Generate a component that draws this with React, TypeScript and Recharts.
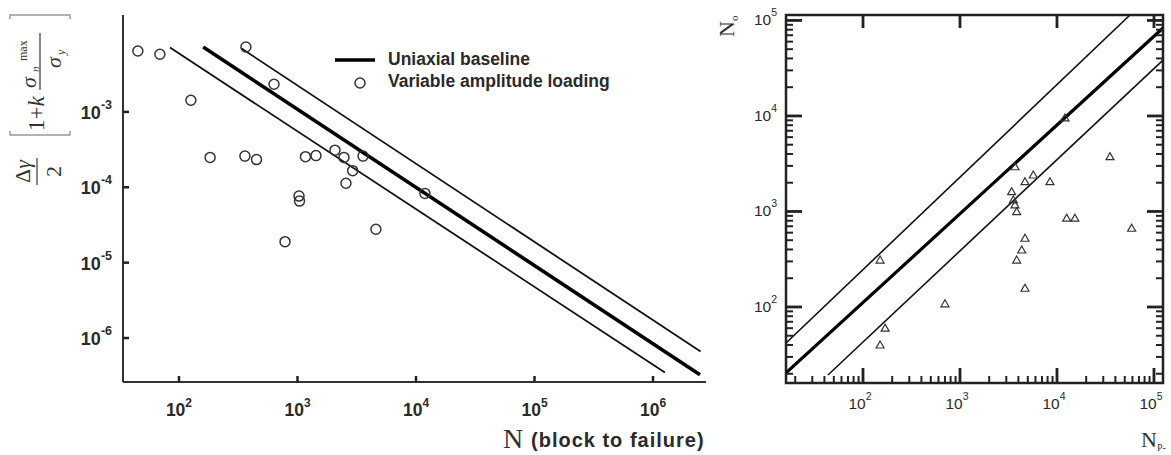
import React from 'react';
import { ScatterChart, Scatter, XAxis, YAxis, ReferenceArea } from 'recharts';

// ---------------- Left panel: damage parameter vs. blocks to failure ----------------
const blocksToFailure = [45, 69, 126, 183, 367, 360, 451, 634, 1167, 1432, 2071, 2466, 2921, 2565, 3573, 1030, 1040, 785, 4590, 11900];
const damageParameter = [6.43e-3, 5.81e-3, 1.43e-3, 2.49e-4, 7.26e-3, 2.59e-4, 2.33e-4, 2.33e-3, 2.55e-4, 2.63e-4, 3.11e-4, 2.49e-4, 1.66e-4, 1.13e-4, 2.59e-4, 7.64e-5, 6.56e-5, 1.9e-5, 2.77e-5, 8.3e-5];

const baselineN = [160, 2.49e6];
const baselineParam = [7.26e-3, 3.26e-7];
const upperBandN = [338, 2.52e6];
const upperBandParam = [6.92e-3, 6.62e-7];
const lowerBandN = [84, 1.26e6];
const lowerBandParam = [7.13e-3, 3.49e-7];

const leftXTicks = [1e2, 1e3, 1e4, 1e5, 1e6];
const leftYTicks = [1e-6, 1e-5, 1e-4, 1e-3];

// ---------------- Right panel: observed vs. predicted life ----------------
const predictedLife = [150, 169, 150, 700, 3690, 3410, 3550, 3690, 3840, 4680, 5700, 8470, 4680, 4330, 3840, 4680, 12600, 15300, 35200, 58900, 12100];
const observedLife = [310, 60, 40, 108, 2940, 1610, 1320, 1170, 995, 2050, 2410, 2050, 524, 395, 310, 157, 850, 850, 3750, 667, 9530];

const unityNp = [16.1, 123900];
const unityNo = [20.4, 83400];
const upperFactorNp = [16.1, 56600];
const upperFactorNo = [42, 114000];
const lowerFactorNp = [43.5, 123900];
const lowerFactorNo = [19.4, 38500];

const rightMajorTicks = [1e2, 1e3, 1e4, 1e5];
const rightMinorTicks = [
  20, 30, 40, 50, 60, 70, 80, 90,
  200, 300, 400, 500, 600, 700, 800, 900,
  2000, 3000, 4000, 5000, 6000, 7000, 8000, 9000,
  20000, 30000, 40000, 50000, 60000, 70000, 80000, 90000,
];

// ---------------- layout ----------------
const SANS = 'Liberation Sans, Arial, Helvetica, sans-serif';
const SERIF = 'Liberation Serif, Times New Roman, serif';
const INK = '#2a2a2a';

const L = { width: 720, height: 455, left: 123, right: 706, top: 15, bottom: 382 };
const R = { x: 700, width: 471, height: 455, left: 86, right: 463, top: 15, bottom: 383 };

const pairs = (xs: number[], ys: number[]) => xs.map((x, i) => ({ x, y: ys[i] }));

const leftPoints = pairs(blocksToFailure, damageParameter);
const baseline = pairs(baselineN, baselineParam);
const upperBand = pairs(upperBandN, upperBandParam);
const lowerBand = pairs(lowerBandN, lowerBandParam);

const rightPoints = pairs(predictedLife, observedLife);
const unity = pairs(unityNp, unityNo);
const upperFactor = pairs(upperFactorNp, upperFactorNo);
const lowerFactor = pairs(lowerFactorNp, lowerFactorNo);

const rightTicks = [...rightMajorTicks, ...rightMinorTicks].sort((a, b) => a - b);
const isMajor = (v: number) => rightMajorTicks.includes(v);
const expOf = (v: number) => String(Math.round(Math.log10(v)));

const NoMarker = () => <g />;

const Ring = (p: any) => (
  <circle cx={p.cx} cy={p.cy} r={5} fill="none" stroke="#333" strokeWidth={1.5} />
);

const Triangle = (p: any) => (
  <path
    d={`M${p.cx},${p.cy - 4} L${p.cx + 4},${p.cy + 3} L${p.cx - 4},${p.cy + 3} Z`}
    fill="none"
    stroke="#333"
    strokeWidth={1.2}
  />
);

// left panel ticks: short inward marks plus bold power-of-ten labels
const LeftXTick = (p: any) => (
  <g>
    <line x1={p.x} x2={p.x} y1={L.bottom} y2={L.bottom - 6} stroke="#222" strokeWidth={2.5} />
    <text x={p.x} y={416} textAnchor="middle" fontFamily={SANS} fontWeight="bold" fontSize={17.5} fill={INK}>
      10
      <tspan dy={-9} fontSize={12}>{expOf(p.payload.value)}</tspan>
    </text>
  </g>
);

const LeftYTick = (p: any) => (
  <g>
    <line x1={L.left} x2={L.left + 6} y1={p.y} y2={p.y} stroke="#222" strokeWidth={2.5} />
    <text x={112} y={p.y + 7} textAnchor="end" fontFamily={SANS} fontWeight="bold" fontSize={18} fill={INK}>
      10
      <tspan dy={-10} fontSize={12.5}>{expOf(p.payload.value)}</tspan>
    </text>
  </g>
);

// right panel ticks: long majors, short minors, mirrored on the opposite side
const RightXTick = (p: any) => {
  const major = isMajor(p.payload.value);
  return (
    <g>
      <line x1={p.x} x2={p.x} y1={R.bottom} y2={R.bottom - (major ? 15 : 7)} stroke="#222" strokeWidth={major ? 2.8 : 2} />
      {major && <line x1={p.x} x2={p.x} y1={R.top} y2={R.top + 13} stroke="#222" strokeWidth={2.8} />}
      {major && (
        <text x={p.x - 3} y={409} textAnchor="middle" fontFamily={SANS} fontSize={15.5} fill={INK}>
          10
          <tspan dy={-9} fontSize={10.5}>{expOf(p.payload.value)}</tspan>
        </text>
      )}
    </g>
  );
};

const RightYTick = (p: any) => {
  const major = isMajor(p.payload.value);
  const len = major ? 16 : 7;
  return (
    <g>
      <line x1={R.left} x2={R.left + len} y1={p.y} y2={p.y} stroke="#222" strokeWidth={major ? 2.8 : 2} />
      <line x1={R.right} x2={R.right - len} y1={p.y} y2={p.y} stroke="#222" strokeWidth={major ? 2.8 : 2} />
      {major && (
        <text x={77} y={p.y + 5} textAnchor="end" fontFamily={SANS} fontSize={15.5} fill={INK}>
          10
          <tspan dy={-9} fontSize={10.5}>{expOf(p.payload.value)}</tspan>
        </text>
      )}
    </g>
  );
};

function LeftPanel() {
  return (
    <ScatterChart
      width={L.width}
      height={L.height}
      margin={{ top: L.top, right: L.width - L.right, bottom: 0, left: L.left - 60 }}
    >
      <XAxis
        dataKey="x"
        type="number"
        scale="log"
        domain={[33.7, 2.8e6]}
        allowDataOverflow
        ticks={leftXTicks}
        interval={0}
        tickSize={0}
        tickMargin={0}
        height={L.height - L.bottom}
        axisLine={{ stroke: '#333', strokeWidth: 2 }}
        tickLine={false}
        tick={<LeftXTick />}
      />
      <YAxis
        dataKey="y"
        type="number"
        scale="log"
        domain={[2.61e-7, 1.93e-2]}
        allowDataOverflow
        ticks={leftYTicks}
        interval={0}
        tickSize={0}
        tickMargin={0}
        width={60}
        axisLine={{ stroke: '#333', strokeWidth: 2 }}
        tickLine={false}
        tick={<LeftYTick />}
      />
      <Scatter data={lowerBand} line={{ stroke: '#111', strokeWidth: 1.8 }} stroke="#111" shape={<NoMarker />} isAnimationActive={false} />
      <Scatter data={upperBand} line={{ stroke: '#111', strokeWidth: 1.8 }} stroke="#111" shape={<NoMarker />} isAnimationActive={false} />
      <Scatter data={baseline} line={{ stroke: '#000', strokeWidth: 3.6 }} stroke="#000" shape={<NoMarker />} isAnimationActive={false} />
      <Scatter data={leftPoints} shape={<Ring />} isAnimationActive={false} />
    </ScatterChart>
  );
}

function RightPanel() {
  return (
    <ScatterChart
      width={R.width}
      height={R.height}
      margin={{ top: R.top, right: R.width - R.right, bottom: 0, left: R.left - 60 }}
    >
      <XAxis
        dataKey="x"
        type="number"
        scale="log"
        domain={[16.07, 123900]}
        allowDataOverflow
        ticks={rightTicks}
        interval={0}
        tickSize={0}
        tickMargin={0}
        height={R.height - R.bottom}
        axisLine={false}
        tickLine={false}
        tick={<RightXTick />}
      />
      <YAxis
        dataKey="y"
        type="number"
        scale="log"
        domain={[16.0, 114000]}
        allowDataOverflow
        ticks={rightTicks}
        interval={0}
        tickSize={0}
        tickMargin={0}
        width={60}
        axisLine={false}
        tickLine={false}
        tick={<RightYTick />}
      />
      <ReferenceArea x1={16.07} x2={123900} y1={16.0} y2={114000} fill="none" stroke="#222" strokeWidth={2.5} />
      <Scatter data={upperFactor} line={{ stroke: '#111', strokeWidth: 1.6 }} stroke="#111" shape={<NoMarker />} isAnimationActive={false} />
      <Scatter data={lowerFactor} line={{ stroke: '#111', strokeWidth: 1.6 }} stroke="#111" shape={<NoMarker />} isAnimationActive={false} />
      <Scatter data={unity} line={{ stroke: '#000', strokeWidth: 3.2 }} stroke="#000" shape={<NoMarker />} isAnimationActive={false} />
      <Scatter data={rightPoints} shape={<Triangle />} isAnimationActive={false} />
    </ScatterChart>
  );
}

// Rotated y-axis title of the left panel: Δγ/2 [1 + k σn^max / σy]
function DamageParameterTitle() {
  return (
    <g transform="translate(40,185) rotate(-90)" fill="#333">
      <text x={2} y={-10} fontFamily={SERIF} fontSize={22}>
        Δ<tspan fontStyle="italic">γ</tspan>
      </text>
      <line x1={0} x2={27} y1={-3} y2={-3} stroke="#555" strokeWidth={1.4} />
      <text x={8} y={21} fontFamily={SERIF} fontSize={22}>2</text>
      <path d="M54,-30 L50,-30 L50,30 L54,30" fill="none" stroke="#999" strokeWidth={1.4} />
      <text x={54} y={4} fontFamily={SERIF} fontSize={23}>
        1+<tspan fontStyle="italic">k</tspan>
      </text>
      <text x={97} y={-4} fontFamily={SERIF} fontSize={22} fontStyle="italic">σ</text>
      <text x={113} y={-1} fontFamily={SERIF} fontSize={11} fontStyle="italic">n</text>
      <text x={124} y={-13} fontFamily={SERIF} fontSize={12}>max</text>
      <line x1={95} x2={152} y1={0} y2={0} stroke="#555" strokeWidth={1.4} />
      <text x={117} y={21} fontFamily={SERIF} fontSize={22} fontStyle="italic">σ</text>
      <text x={130} y={25} fontFamily={SERIF} fontSize={12} fontStyle="italic">y</text>
      <path d="M166,-30 L170,-30 L170,30 L166,30" fill="none" stroke="#999" strokeWidth={1.4} />
    </g>
  );
}

function Annotations() {
  return (
    <svg width={1171} height={455} style={{ position: 'absolute', left: 0, top: 0, pointerEvents: 'none' }}>
      <DamageParameterTitle />
      {/* legend */}
      <line x1={335} x2={375} y1={60} y2={60} stroke="#000" strokeWidth={3.6} />
      <text x={388} y={65} fontFamily={SANS} fontWeight="bold" fontSize={17.5} fill={INK}>Uniaxial baseline</text>
      <circle cx={360} cy={83} r={5} fill="none" stroke="#333" strokeWidth={1.5} />
      <text x={388} y={87} fontFamily={SANS} fontWeight="bold" fontSize={17.5} fill={INK}>Variable amplitude loading</text>
      {/* left x-axis title */}
      <text x={503} y={448} fontFamily={SERIF} fontSize={28} fill="#333">N</text>
      <text x={531} y={447} fontFamily={SANS} fontWeight="bold" fontSize={20} letterSpacing={1} fill={INK}>(block to failure)</text>
      {/* right panel axis titles */}
      <text transform="translate(734,37) rotate(-90)" fontFamily={SERIF} fontSize={22} fill="#333">
        N<tspan fontSize={11} dy={4}>o</tspan>
      </text>
      <text x={1141} y={447} fontFamily={SERIF} fontSize={22} fill="#333">
        N<tspan fontSize={10} dy={4}>P-</tspan>
      </text>
    </svg>
  );
}

export default function App() {
  return (
    <div style={{ position: 'fixed', left: 0, top: 0, width: 1171, height: 455, background: '#fff', overflow: 'hidden' }}>
      <div style={{ position: 'absolute', left: 0, top: 0 }}>
        <LeftPanel />
      </div>
      <div style={{ position: 'absolute', left: R.x, top: 0 }}>
        <RightPanel />
      </div>
      <Annotations />
    </div>
  );
}
